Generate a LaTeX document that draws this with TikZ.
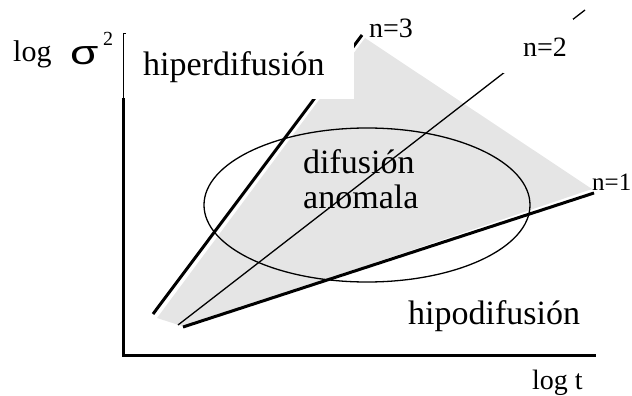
\documentclass[tikz,border=0pt]{standalone}
\usepackage{fontspec}
\setmainfont{Liberation Serif}
\newfontfamily\sigmafont{Liberation Sans}
\usepackage{graphicx}
\begin{document}
\begin{tikzpicture}[x=1pt,y=-1pt,
    gruesa/.style={line width=3pt},
    fina/.style={line width=1.3pt},
    texto/.style={anchor=base west,inner sep=0pt,font=\fontsize{34}{35}\selectfont},
    etiqueta/.style={anchor=base west,inner sep=0pt,font=\fontsize{28}{30}\selectfont}]
  \useasboundingbox (0,0) rectangle (632,396);
  % zona sombreada
  \fill[gray!20] (157,318) -- (365,38) -- (592,189) -- (185,327) -- cycle;
  \draw[fina] (367,205) ellipse [x radius=163, y radius=77];
  % rectas
  \coordinate (n3a) at (153,314);
  \coordinate (n3b) at (362,35);
  \coordinate (n2a) at (178,325);
  \coordinate (n2b) at (585,10);
  \coordinate (n1a) at (183,327);
  \coordinate (n1b) at (594,193);
  \draw[gruesa] (n3a) -- (n3b);
  \draw[fina] (n2a) -- (n2b);
  \draw[gruesa] (n1a) -- (n1b);
  % tapas blancas
  \fill[white] (123,33) rectangle (354,99);
  \fill[white] (503,19) rectangle (573,73);
  % ejes
  \coordinate (ejey) at (123,98);
  \coordinate (origen) at (123,355);
  \coordinate (ejex) at (596,355);
  \draw[gruesa] (ejey) -- (origen) -- (ejex);
  \draw[line width=0.8pt] (126,33) -- (123,33) -- (ejey);
  % textos
  \node[etiqueta,font=\fontsize{30}{30}\selectfont] (log) at (13,62) {log};
  \node[anchor=base west,inner sep=0pt] (sigma) at (70,65)
    {\sigmafont\fontsize{34}{34}\selectfont\scalebox{1.35}[1]{σ}};
  \node[anchor=base west,inner sep=0pt,font=\fontsize{20}{20}\selectfont] (cuadrado) at (103,46) {2};
  \node[texto] (hiper) at (143,75) {hiperdifusión};
  \node[texto] (anom1) at (303,173) {difusión};
  \node[texto] (anom2) at (303,208) {anomala};
  \node[texto] (hipo) at (408,324) {hipodifusión};
  \node[etiqueta] (ene3) at (369,38) {n=3};
  \node[etiqueta] (ene2) at (523,57) {n=2};
  \node[etiqueta,font=\fontsize{25}{25}\selectfont] (ene1) at (592,190) {n=1};
  \node[etiqueta] (logt) at (532,389) {log t};
\end{tikzpicture}
\end{document}
